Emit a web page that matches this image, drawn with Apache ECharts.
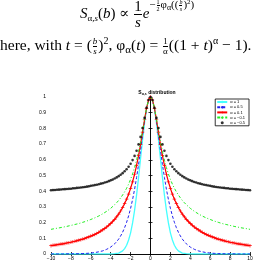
<!DOCTYPE html>
<html><head><meta charset="utf-8">
<script src="https://cdn.jsdelivr.net/npm/echarts@6/dist/echarts.min.js"></script>
<style>
html,body{margin:0;padding:0;background:#fff;width:278px;height:261px;overflow:hidden}
#chart{position:absolute;left:0;top:0;width:278px;height:261px}
.eq{position:absolute;white-space:nowrap;font-family:"Liberation Serif","DejaVu Serif",serif;color:#000;z-index:5;line-height:1.2;font-size:15px}
.fr{display:inline-flex;flex-direction:column;vertical-align:middle;text-align:center;line-height:1;margin:0 1px}
.fr>span:last-child{border-top:1px solid #000}
.up{display:inline-block;line-height:1}
.mk{display:inline-block;width:0;height:0}
</style></head>
<body>
<div id="chart"></div>
<div class="eq" id="l1" style="left:80px;top:0px"><span class="mk"></span><i>S</i><span class="up" style="font-size:9px;vertical-align:-3px">α,<i>s</i></span>(<i>b</i>) ∝ <span class="fr"><span>1</span><span><i>s</i></span></span><i>e</i><span class="up" style="font-size:11px;vertical-align:10px">−<span class="fr" style="font-size:6px"><span>1</span><span>2</span></span>φ<span style="font-size:8px;vertical-align:-2px">α</span>((<span class="fr" style="font-size:6px"><span><i>b</i></span><span><i>s</i></span></span>)<span style="font-size:7px;vertical-align:4px">2</span>)</span></div>
<div class="eq" id="l2" style="left:0px;top:30px;font-size:15.5px"><span class="mk"></span>here, with <i>t</i> = (<span class="fr" style="font-size:9px"><span><i>b</i></span><span><i>s</i></span></span>)<span class="up" style="font-size:10px;vertical-align:6px">2</span>, φ<span class="up" style="font-size:11px;vertical-align:-3px">α</span>(<i>t</i>) = <span class="fr" style="font-size:9px"><span>1</span><span>α</span></span>((1 + <i>t</i>)<span class="up" style="font-size:10px;vertical-align:6px">α</span> − 1).</div>
<script>
// align text baselines
function placeBaseline(id, y){
  const el=document.getElementById(id);
  const mk=el.querySelector('.mk');
  const cur=mk.getBoundingClientRect().top;
  el.style.top=(parseFloat(el.style.top)+(y-cur))+'px';
}
placeBaseline('l1',18);
placeBaseline('l2',50);

const bValues = [-10,-9.8,-9.6,-9.4,-9.2,-9,-8.8,-8.6,-8.4,-8.2,-8,-7.8,-7.6,-7.4,-7.2,-7,-6.8,-6.6,-6.4,-6.2,-6,-5.8,-5.6,-5.4,-5.2,-5,-4.8,-4.6,-4.4,-4.2,-4,-3.8,-3.6,-3.4,-3.2,-3,-2.8,-2.6,-2.4,-2.2,-2,-1.8,-1.6,-1.4,-1.2,-1,-0.8,-0.6,-0.4,-0.2,0,0.2,0.4,0.6,0.8,1,1.2,1.4,1.6,1.8,2,2.2,2.4,2.6,2.8,3,3.2,3.4,3.6,3.8,4,4.2,4.4,4.6,4.8,5,5.2,5.4,5.6,5.8,6,6.2,6.4,6.6,6.8,7,7.2,7.4,7.6,7.8,8,8.2,8.4,8.6,8.8,9,9.2,9.4,9.6,9.8,10];

const alpha1 = [0,0,0,0,0,0,0,0,0,0, 0,0,0,0,0,0,0,0,0,0, 0,0,0,0,0,0,0,0,0,0, 0,0.001,0.002,0.003,0.006,0.011,0.020,0.034,0.056,0.089, 0.135,0.198,0.278,0.375,0.487,0.607,0.726,0.835,0.923,0.980, 1,
 0.980,0.923,0.835,0.726,0.607,0.487,0.375,0.278,0.198,0.135, 0.089,0.056,0.034,0.020,0.011,0.006,0.003,0.002,0.001,0, 0,0,0,0,0,0,0,0,0,0, 0,0,0,0,0,0,0,0,0,0, 0,0,0,0,0,0,0,0,0,0];

const alpha05 = [0,0,0,0,0,0,0,0,0.001,0.001, 0.001,0.001,0.001,0.002,0.002,0.002,0.003,0.003,0.004,0.005, 0.006,0.008,0.009,0.011,0.014,0.017,0.020,0.025,0.030,0.036, 0.044,0.053,0.065,0.079,0.095,0.115,0.139,0.168,0.202,0.243, 0.291,0.347,0.412,0.487,0.570,0.661,0.755,0.847,0.926,0.980, 1,
 0.980,0.926,0.847,0.755,0.661,0.570,0.487,0.412,0.347,0.291, 0.243,0.202,0.168,0.139,0.115,0.095,0.079,0.065,0.053,0.044, 0.036,0.030,0.025,0.020,0.017,0.014,0.011,0.009,0.008,0.006, 0.005,0.004,0.003,0.003,0.002,0.002,0.002,0.001,0.001,0.001, 0.001,0.001,0,0,0,0,0,0,0,0];

const alpha01 = [0.053,0.055,0.057,0.059,0.061,0.063,0.065,0.067,0.070,0.072, 0.075,0.078,0.081,0.084,0.088,0.091,0.095,0.099,0.104,0.109, 0.114,0.119,0.125,0.131,0.138,0.146,0.154,0.163,0.172,0.183, 0.194,0.207,0.221,0.237,0.254,0.274,0.296,0.321,0.349,0.381, 0.418,0.460,0.508,0.564,0.627,0.698,0.776,0.855,0.928,0.981, 1,
 0.981,0.928,0.855,0.776,0.698,0.627,0.564,0.508,0.460,0.418, 0.381,0.349,0.321,0.296,0.274,0.254,0.237,0.221,0.207,0.194, 0.183,0.172,0.163,0.154,0.146,0.138,0.131,0.125,0.119,0.114, 0.109,0.104,0.099,0.095,0.091,0.088,0.084,0.081,0.078,0.075, 0.072,0.070,0.067,0.065,0.063,0.061,0.059,0.057,0.055,0.053];

const alphaM01 = [0.157,0.159,0.162,0.164,0.166,0.168,0.171,0.173,0.176,0.179, 0.182,0.185,0.188,0.191,0.194,0.198,0.202,0.206,0.210,0.215, 0.220,0.225,0.230,0.236,0.242,0.249,0.256,0.264,0.272,0.281, 0.291,0.302,0.314,0.327,0.341,0.358,0.376,0.396,0.419,0.445, 0.476,0.510,0.551,0.598,0.653,0.715,0.786,0.860,0.929,0.981, 1,
 0.981,0.929,0.860,0.786,0.715,0.653,0.598,0.551,0.510,0.476, 0.445,0.419,0.396,0.376,0.358,0.341,0.327,0.314,0.302,0.291, 0.281,0.272,0.264,0.256,0.249,0.242,0.236,0.230,0.225,0.220, 0.215,0.210,0.206,0.202,0.198,0.194,0.191,0.188,0.185,0.182, 0.179,0.176,0.173,0.171,0.168,0.166,0.164,0.162,0.159,0.157];

const alphaM05 = [0.406,0.407,0.408,0.409,0.410,0.411,0.412,0.413,0.414,0.415, 0.416,0.418,0.419,0.421,0.422,0.424,0.425,0.427,0.429,0.431, 0.434,0.436,0.439,0.441,0.444,0.448,0.451,0.455,0.459,0.464, 0.469,0.474,0.481,0.488,0.496,0.505,0.515,0.527,0.540,0.556, 0.575,0.598,0.625,0.658,0.698,0.746,0.803,0.867,0.931,0.981, 1,
 0.981,0.931,0.867,0.803,0.746,0.698,0.658,0.625,0.598,0.575, 0.556,0.540,0.527,0.515,0.505,0.496,0.488,0.481,0.474,0.469, 0.464,0.459,0.455,0.451,0.448,0.444,0.441,0.439,0.436,0.434, 0.431,0.429,0.427,0.425,0.424,0.422,0.421,0.419,0.418,0.416, 0.415,0.414,0.413,0.412,0.411,0.410,0.409,0.408,0.407,0.406];

const seriesNames = ['α = 1','α = 0.5','α = 0.1','α = −0.1','α = −0.5'];

const pairs = ys => bValues.map((b,i)=>[b, ys[i]]);
const chart = echarts.init(document.getElementById('chart'), null, {renderer:'canvas'});
const tickStyle = {show:true, inside:true, length:2, lineStyle:{color:'#000', width:0.8}};
const lblFont = {fontFamily:'Liberation Sans, Arial, sans-serif', fontSize:5, color:'#000'};
chart.setOption({
  animation:false,
  backgroundColor:'#fff',
  title:{
    text:'{s|S}{sub|α,s}{t| distribution}',
    left:152, top:85, textAlign:'center',
    textStyle:{rich:{
      s:{fontSize:5, fontFamily:'Liberation Sans, Arial', color:'#000'},
      sub:{fontSize:3.5, fontFamily:'Liberation Sans, Arial', color:'#000', verticalAlign:'bottom', padding:[2,0,0,0]},
      t:{fontSize:5, fontFamily:'Liberation Sans, Arial', color:'#000'}
    }}
  },
  grid:{left:51, right:28, top:97, bottom:5, containLabel:false},
  legend:{
    orient:'vertical', right:29, top:99, itemWidth:10, itemHeight:3, itemGap:1.2,
    padding:[1,4,1,1], borderColor:'#000', borderWidth:0.8, backgroundColor:'#fff',
    textStyle:{fontSize:4, fontFamily:'Liberation Sans, Arial', color:'#000', padding:[0,0,0,-2]},
    data:seriesNames
  },
  xAxis:[
    {type:'value', min:-10, max:10, interval:2, position:'bottom',
     axisLine:{lineStyle:{color:'#000', width:0.8}}, axisTick:tickStyle,
     axisLabel:Object.assign({margin:2, formatter:v=>String(v).replace('-','−')}, lblFont),
     splitLine:{show:false}},
    {type:'value', min:-10, max:10, interval:2, position:'top',
     axisLine:{lineStyle:{color:'#000', width:0.8}}, axisTick:tickStyle,
     axisLabel:{show:false}, splitLine:{show:false}}
  ],
  yAxis:[
    {type:'value', min:0, max:1, interval:0.1, position:'left',
     axisLine:{show:true, lineStyle:{color:'#000', width:0.8}}, axisTick:tickStyle,
     axisLabel:Object.assign({margin:5}, lblFont), splitLine:{show:false}},
    {type:'value', min:0, max:1, interval:0.1, position:'right',
     axisLine:{show:true, lineStyle:{color:'#000', width:0.8}}, axisTick:tickStyle,
     axisLabel:{show:false}, splitLine:{show:false}}
  ],
  series:[
    {name:seriesNames[0], type:'line', data:pairs(alpha1), showSymbol:false, symbol:'none',
     lineStyle:{color:'#44ffff', width:1.3}, itemStyle:{color:'#44ffff'}, z:2},
    {name:seriesNames[1], type:'line', data:pairs(alpha05), showSymbol:false, symbol:'none',
     lineStyle:{color:'#2222ee', width:1, type:[3,2]}, itemStyle:{color:'#2222ee'}, z:3},
    {name:seriesNames[2], type:'line', data:pairs(alpha01), symbol:'path://M4,0H6V4H10V6H6V10H4V6H0V4H4Z', symbolSize:3.5, showSymbol:true,
     lineStyle:{color:'#ff0000', width:1.2}, itemStyle:{color:'#ff0000'}, z:4},
    {name:seriesNames[3], type:'line', data:pairs(alphaM01), showSymbol:false, symbol:'none',
     lineStyle:{color:'#22ee22', width:1, type:[3,2,1,2]}, itemStyle:{color:'#22ee22'}, z:5},
    {name:seriesNames[4], type:'scatter', data:pairs(alphaM05), symbol:'circle', symbolSize:2.6,
     itemStyle:{color:'#000'}, z:6}
  ]
});
</script>
</body></html>
